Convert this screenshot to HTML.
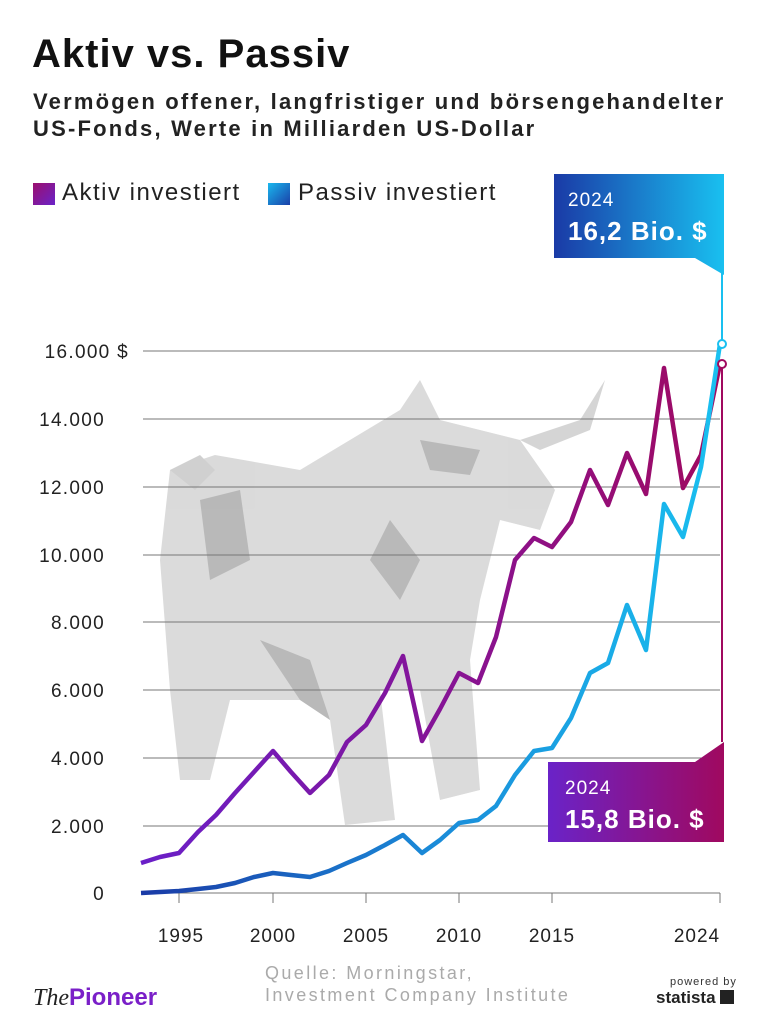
<!DOCTYPE html>
<html><head><meta charset="utf-8"><style>
body{margin:0;width:768px;height:1024px;background:#fff;font-family:"Liberation Sans",sans-serif;overflow:hidden;position:relative}
.a{position:absolute;white-space:nowrap}
</style></head><body>
<div class="a" style="left:32px;top:32px;font-size:40px;font-weight:bold;color:#111;letter-spacing:1px">Aktiv vs. Passiv</div>
<div class="a" style="left:33px;top:88px;font-size:22px;font-weight:bold;color:#222;line-height:27px;letter-spacing:2.2px">Vermögen offener, langfristiger und börsengehandelter<br>US-Fonds, Werte in Milliarden US-Dollar</div>
<div class="a" style="left:33px;top:183px;width:22px;height:22px;background:linear-gradient(135deg,#9b0f6e,#6a23c8)"></div>
<div class="a" style="left:62px;top:179px;font-size:24px;color:#222;letter-spacing:1.5px">Aktiv investiert</div>
<div class="a" style="left:268px;top:183px;width:22px;height:22px;background:linear-gradient(135deg,#1ab8ee,#1a3fa8)"></div>
<div class="a" style="left:298px;top:179px;font-size:24px;color:#222;letter-spacing:1.5px">Passiv investiert</div>
<svg class="a" style="left:0;top:0" width="768" height="1024">
<defs>
<linearGradient id="gb" x1="0" x2="1"><stop offset="0" stop-color="#1a3aa6"/><stop offset="1" stop-color="#19c0f0"/></linearGradient>
<linearGradient id="gp" x1="0" x2="1"><stop offset="0" stop-color="#6a23c8"/><stop offset="1" stop-color="#a0095f"/></linearGradient>
<linearGradient id="la" x1="0" x2="1"><stop offset="0" stop-color="#6a1fc8"/><stop offset="0.6" stop-color="#8a128e"/><stop offset="1" stop-color="#a0095f"/></linearGradient>
<linearGradient id="lp" x1="0" x2="1"><stop offset="0" stop-color="#1a3aa6"/><stop offset="0.5" stop-color="#1a8ad8"/><stop offset="1" stop-color="#19c0f0"/></linearGradient>
</defs>
<g opacity="0.3" fill="#888">
<polygon points="170,470 215,455 300,470 400,410 420,380 440,420 520,440 555,490 540,530 500,520 480,600 470,660 480,790 440,800 420,690 380,690 395,820 345,825 330,720 300,700 230,700 210,780 180,780 170,690 160,560"/>
<polygon points="520,440 580,420 605,380 590,430 540,450" fill="#777"/>
<polygon points="170,470 200,455 215,470 195,490" fill="#666"/>
</g>
<g opacity="0.25" fill="#555">
<polygon points="420,440 480,450 470,475 430,470"/>
<polygon points="260,640 310,660 330,720 300,700"/>
<polygon points="390,520 420,560 400,600 370,560"/>
<polygon points="200,500 240,490 250,560 210,580"/>
</g>
<g stroke="#777" stroke-width="1">
<line x1="143" x2="720" y1="351" y2="351"/><line x1="143" x2="720" y1="419" y2="419"/><line x1="143" x2="720" y1="487" y2="487"/><line x1="143" x2="720" y1="555" y2="555"/><line x1="143" x2="720" y1="622" y2="622"/><line x1="143" x2="720" y1="690" y2="690"/><line x1="143" x2="720" y1="758" y2="758"/><line x1="143" x2="720" y1="826" y2="826"/><line x1="143" x2="720" y1="893" y2="893"/>
<line x1="179" x2="179" y1="893" y2="903"/><line x1="273" x2="273" y1="893" y2="903"/><line x1="366" x2="366" y1="893" y2="903"/><line x1="459" x2="459" y1="893" y2="903"/><line x1="552" x2="552" y1="893" y2="903"/><line x1="720" x2="720" y1="893" y2="903"/>
</g>
<g font-size="19" fill="#222" text-anchor="end" letter-spacing="1.3">
<text x="129" y="358">16.000 $</text><text x="105" y="426">14.000</text><text x="105" y="494">12.000</text><text x="105" y="562">10.000</text><text x="105" y="629">8.000</text><text x="105" y="697">6.000</text><text x="105" y="765">4.000</text><text x="105" y="833">2.000</text><text x="105" y="900">0</text>
</g>
<g font-size="19" fill="#222" text-anchor="middle" letter-spacing="1">
<text x="181" y="942">1995</text><text x="273" y="942">2000</text><text x="366" y="942">2005</text><text x="459" y="942">2010</text><text x="552" y="942">2015</text><text x="697" y="942">2024</text>
</g>
<polyline fill="none" stroke="url(#la)" stroke-width="4.5" stroke-linejoin="round" points="141,863 160,857 179,853 198,832 216,815 235,793 254,772 273,751 291,772 310,793 329,775 347,742 366,725 385,693 403,656 422,741 440,709 459,673 478,683 496,637 515,560 534,538 552,547 571,522 590,470 608,505 627,453 646,494 664,368 683,488 701,455 720,364"/>
<polyline fill="none" stroke="url(#lp)" stroke-width="4.5" stroke-linejoin="round" points="141,893 160,892 179,891 198,889 216,887 235,883 254,877 273,873 291,875 310,877 329,871 347,863 366,855 385,845 403,835 422,853 440,840 459,823 478,820 496,806 515,775 534,751 552,748 571,718 590,673 608,663 627,605 646,650 664,504 683,537 701,467 720,344"/>
<line x1="722" y1="248" x2="722" y2="344" stroke="#19c0f0" stroke-width="2"/>
<line x1="722" y1="364" x2="722" y2="742" stroke="#a0095f" stroke-width="2"/>
<polygon points="554,174 724,174 724,275 695,258 554,258" fill="url(#gb)"/>
<polygon points="548,762 695,762 724,742 724,842 548,842" fill="url(#gp)"/>
<circle cx="722" cy="344" r="4" fill="#fff" stroke="#19c0f0" stroke-width="2"/>
<circle cx="722" cy="364" r="4" fill="#fff" stroke="#a0095f" stroke-width="2"/>
<text x="568" y="206" font-size="19" fill="#fff" letter-spacing="1">2024</text>
<text x="568" y="240" font-size="26" font-weight="bold" fill="#fff" letter-spacing="1">16,2 Bio. $</text>
<text x="565" y="794" font-size="19" fill="#fff" letter-spacing="1">2024</text>
<text x="565" y="828" font-size="26" font-weight="bold" fill="#fff" letter-spacing="1">15,8 Bio. $</text>
</svg>
<div class="a" style="left:33px;top:984px;font-size:24px;color:#222"><i style="font-family:'Liberation Serif',serif">The</i><b style="color:#7a1fc8">Pioneer</b></div>
<div class="a" style="left:265px;top:962px;font-size:18px;color:#aaa;line-height:22px;letter-spacing:2.4px">Quelle: Morningstar,<br>Investment Company Institute</div>
<div class="a" style="left:670px;top:976px;font-size:11px;color:#333;letter-spacing:1px">powered by</div>
<div class="a" style="left:656px;top:988px;font-size:17px;font-weight:bold;color:#222">statista <span style="display:inline-block;width:14px;height:14px;background:#222;vertical-align:-1px"></span></div>
</body></html>
